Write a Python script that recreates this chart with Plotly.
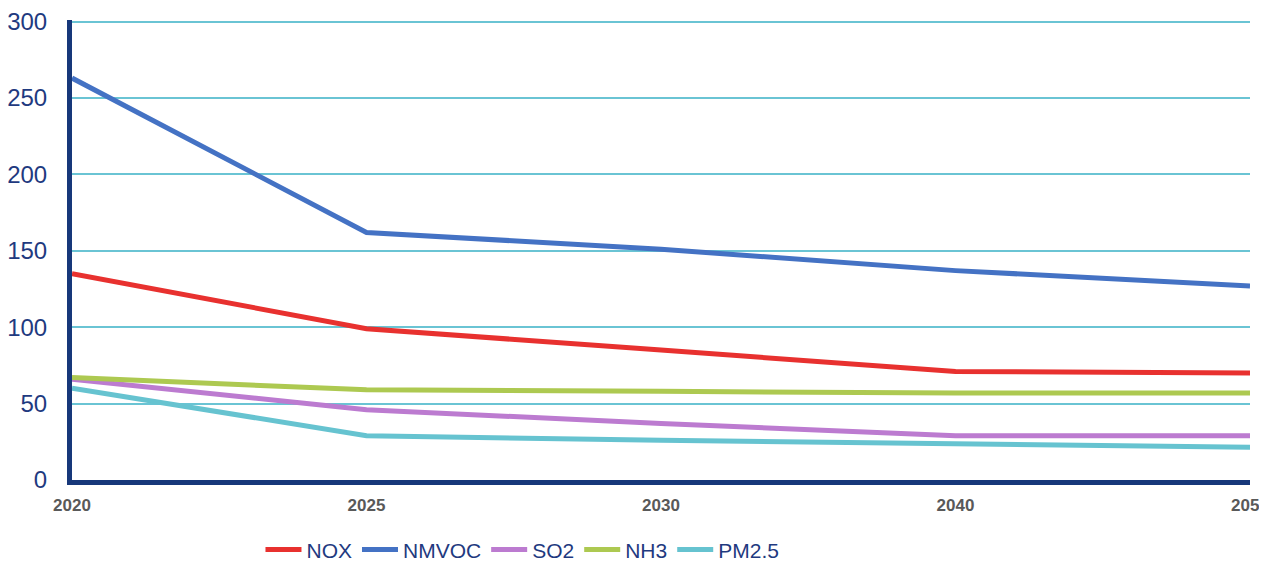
import plotly.graph_objects as go

years = ["2020", "2025", "2030", "2040", "2050"]
nox = [135, 99, 85, 71, 70]
nmvoc = [263, 162, 151, 137, 127]
so2 = [66, 46, 37, 29, 29]
nh3 = [67, 59, 58, 57, 57]
pm25 = [60, 29, 26, 23.5, 21.5]

series = [
    ("NOX", nox, "#e8312f"),
    ("NMVOC", nmvoc, "#4472c4"),
    ("SO2", so2, "#bc7bd0"),
    ("NH3", nh3, "#adc951"),
    ("PM2.5", pm25, "#66c3d0"),
]

fig = go.Figure()
for name, vals, col in series:
    fig.add_trace(go.Scatter(x=years, y=vals, name=name, mode="lines",
                             line=dict(color=col, width=5)))

# page body has an 8px default margin, so the figure is sized to fit the window
fig.update_layout(
    width=1259, height=554,
    margin=dict(l=64, r=17, t=12, b=82, autoexpand=False),
    paper_bgcolor="white", plot_bgcolor="white",
    font=dict(family="Liberation Sans, Arial, sans-serif", color="#1f3a80"),
    showlegend=True,
    legend=dict(orientation="h", x=0.160, xanchor="left", y=-0.152, yanchor="middle",
                font=dict(family="Liberation Sans, Arial", size=21, color="#1f3a80"),
                itemwidth=36, tracegroupgap=0),
)
fig.update_xaxes(type="category", range=[0, 4], showgrid=False, automargin=False,
                 showline=True, linecolor="#17387a", linewidth=5,
                 tickfont=dict(size=17, color="#595959", family="Liberation Sans, Arial", weight="bold"),
                 ticks="", ticklabelstandoff=6, ticklabeloverflow="allow")
fig.update_yaxes(range=[0, 301], dtick=50, showgrid=True, gridcolor="#6ac4d4", gridwidth=1.5,
                 showline=True, linecolor="#17387a", linewidth=5, zeroline=False, automargin=False,
                 tickfont=dict(size=24, color="#1f3a80"), ticks="", ticklabelstandoff=15,
                 ticklabeloverflow="allow")

fig.write_html("out.html")
